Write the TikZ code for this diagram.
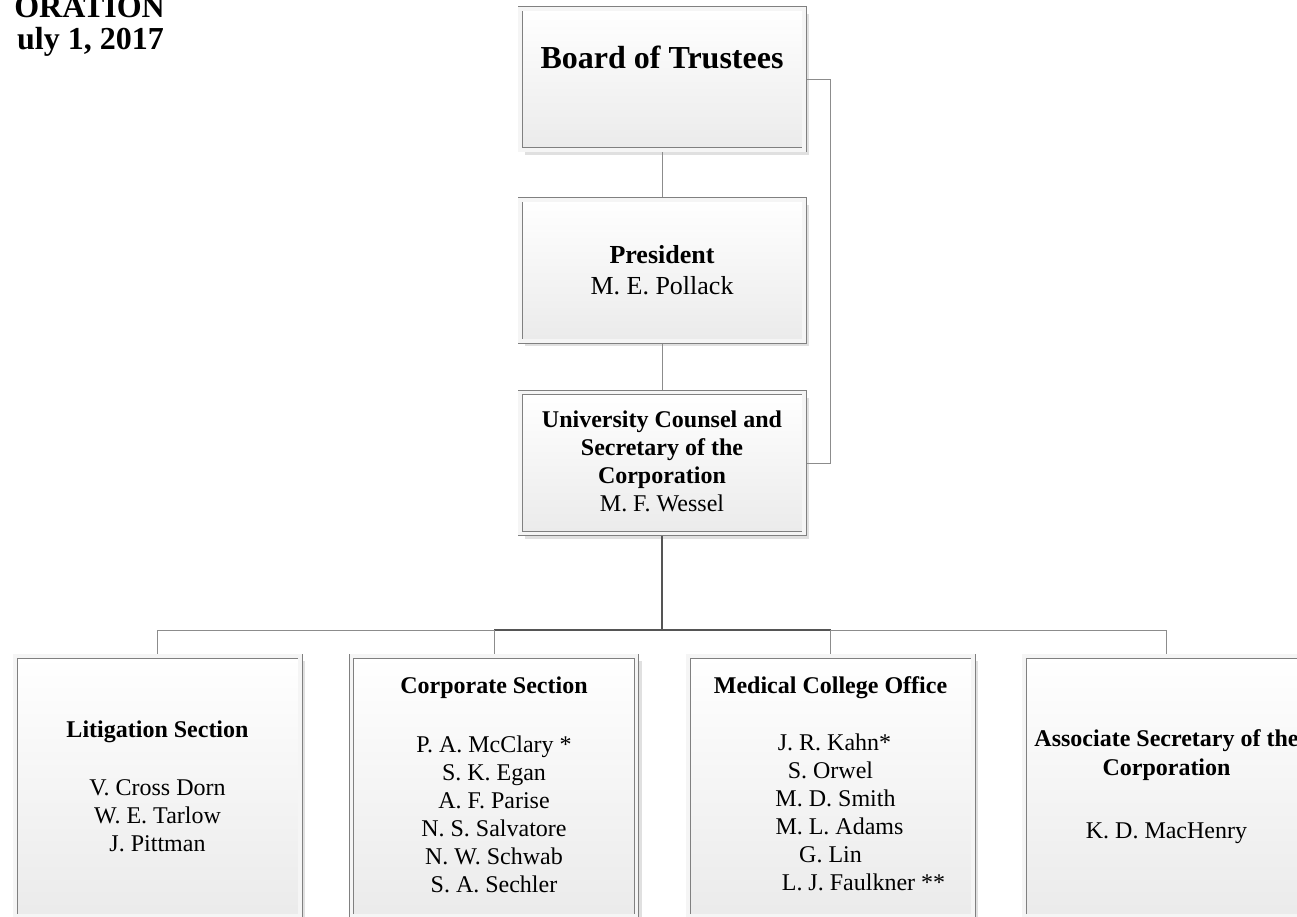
\documentclass[tikz,border=0pt]{standalone}
\usepackage{fontspec}
\setmainfont{Liberation Serif}
\usetikzlibrary{shadows}
\definecolor{boxline}{HTML}{808080}
\definecolor{connline}{HTML}{8C8C8C}
\definecolor{darkline}{HTML}{555555}
\tikzset{
  orgbox/.style={draw=boxline, line width=0.9pt, double=black!4, double distance=3.2pt,
    top color=white, bottom color=black!8, minimum width=284pt, minimum height=141pt,
    inner sep=0pt, outer sep=2.5pt,
    drop shadow={shadow xshift=5pt, shadow yshift=-5pt, fill=black!12, opacity=1}},
  widebox/.style={minimum width=285pt, minimum height=260pt},
  conn/.style={draw=connline, line width=1pt},
  trunk/.style={draw=darkline, line width=1.6pt},
  ttl/.style={font=\fontsize{24}{28}\selectfont, align=center, inner sep=0pt, anchor=north},
  headtxt/.style={font=\fontsize{32}{34}\selectfont\bfseries, inner sep=0pt, anchor=base east},
}
\begin{document}
\begin{tikzpicture}[x=1pt, y=-1pt]
\useasboundingbox (0,0) rectangle (1297,917);
\clip (0,0) rectangle (1297,917);

% title (cut at the left edge)
\node[headtxt] (t1) at (165,18) {ORATION};
\node[headtxt] (t2) at (164,50) {uly 1, 2017};

% boxes
\node[orgbox] (bot) at (662,79.5) {};
\node[orgbox] (pres) at (662,270.5) {};
\node[orgbox] (uc) at (662,463) {};
\node[orgbox, widebox] (lit) at (157.5,786) {};
\node[orgbox, widebox] (corp) at (494,786) {};
\node[orgbox, widebox] (med) at (830.5,786) {};
\node[orgbox, widebox] (assoc) at (1166.5,786) {};

% texts
\node[ttl, font=\fontsize{32}{36}\selectfont\bfseries, anchor=base] (botT) at (662,69) {Board of Trustees};
\node[ttl, font=\fontsize{26}{31}\selectfont] (presT) at (662,241.3) {\strut\textbf{President}\\M. E. Pollack};
\node[ttl] (ucT) at (662,407.4) {\strut\textbf{University Counsel and}\\\textbf{Secretary of the}\\\textbf{Corporation}\\M. F. Wessel};
\node[ttl] (litT) at (157.5,717.4) {\strut\textbf{Litigation Section}\\[30pt]V. Cross Dorn\\W. E. Tarlow\\J. Pittman};
\node[ttl] (corpT) at (494,673.4) {\strut\textbf{Corporate Section}\\[31pt]P. A. McClary *\\S. K. Egan\\A. F. Parise\\N. S. Salvatore\\N. W. Schwab\\S. A. Sechler};
\node[ttl] (medT) at (830.5,673.4) {\strut\textbf{Medical College Office}\\[29pt]\hspace*{8pt}J. R. Kahn*\\S. Orwel\hspace*{4pt}\\\hspace*{10pt}M. D. Smith\\\hspace*{18pt}M. L. Adams\\G. Lin\hspace*{4pt}\\\hspace*{66pt}L. J. Faulkner **};
\node[ttl] (assocT) at (1166.5,726.4) {\strut\textbf{Associate Secretary of the}\\[1pt]\textbf{Corporation}\\[35pt]K. D. MacHenry};

% connectors
\coordinate (bus) at (662,630);
\draw[conn] (bot.south) -- (pres.north);
\draw[conn] (pres.south) -- (uc.north);
\draw[conn] (bot.east) -- ++(24,0) |- (uc.east);
\draw[trunk] (uc.south) -- (bus);
\draw[trunk] (corp.north |- bus) -- (med.north |- bus);
\draw[conn] (lit.north |- bus) -- (corp.north |- bus);
\draw[conn] (med.north |- bus) -- (assoc.north |- bus);
\draw[conn] (lit.north |- bus) -- (lit.north);
\draw[conn] (corp.north |- bus) -- (corp.north);
\draw[conn] (med.north |- bus) -- (med.north);
\draw[conn] (assoc.north |- bus) -- (assoc.north);
\end{tikzpicture}
\end{document}
